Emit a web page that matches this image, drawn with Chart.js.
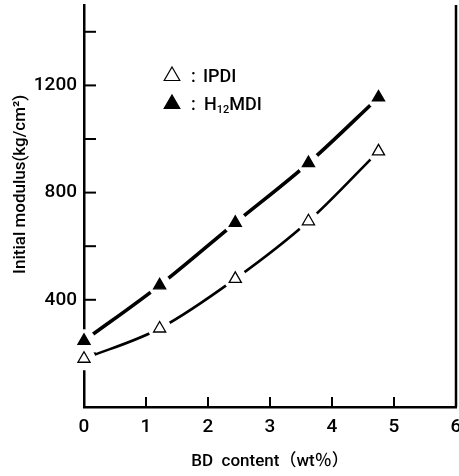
<!DOCTYPE html>
<html>
<head>
<meta charset="utf-8">
<script src="https://cdn.jsdelivr.net/npm/chart.js@4"></script>
<style>
  html, body { margin: 0; padding: 0; background: #fff; }
  #wrap { width: 459px; height: 476px; }
</style>
</head>
<body>
<div id="wrap"><canvas id="chart" width="459" height="476"></canvas></div>
<script>
const bdContent = [0, 1.22, 2.44, 3.62, 4.75];
const ipdiModulus = [180, 293, 478, 693, 954];
const h12mdiModulus = [247, 454, 687, 910, 1155];
const yLabelValues = [400, 800, 1200];
const xTickValues = [0, 1, 2, 3, 4, 5, 6];

const FONT = "Roboto, 'Noto Sans CJK JP', sans-serif";

function toPoints(xs, ys) {
  return xs.map((x, i) => ({ x: x, y: ys[i] }));
}

// inward ticks, right border, legend, markers with white halos
const decor = {
  id: 'decor',
  afterDraw(chart) {
    const ctx = chart.ctx;
    const area = chart.chartArea;
    const xs = chart.scales.x, ys = chart.scales.y;
    ctx.save();
    ctx.strokeStyle = '#000';
    ctx.lineWidth = 2.5;
    ctx.beginPath();
    ctx.moveTo(area.right, area.top);
    ctx.lineTo(area.right, area.bottom);
    ctx.stroke();
    ctx.lineWidth = 2;
    xTickValues.forEach(v => {
      const px = xs.getPixelForValue(v);
      ctx.beginPath();
      ctx.moveTo(px, area.bottom);
      ctx.lineTo(px, area.bottom - 10);
      ctx.stroke();
    });
    for (let v = 200; v <= 1400; v += 200) {
      const py = ys.getPixelForValue(v);
      ctx.beginPath();
      ctx.moveTo(area.left, py);
      ctx.lineTo(area.left + 12, py);
      ctx.stroke();
    }

    // halos then markers
    chart.data.datasets.forEach((ds, i) => {
      chart.getDatasetMeta(i).data.forEach(pt => {
        ctx.fillStyle = '#fff';
        ctx.beginPath();
        ctx.arc(pt.x, pt.y, 11.5, 0, Math.PI * 2);
        ctx.fill();
      });
    });
    chart.data.datasets.forEach((ds, i) => {
      chart.getDatasetMeta(i).data.forEach(pt => {
        ctx.fillStyle = ds.markerFill;
        ctx.strokeStyle = '#000';
        ctx.lineWidth = 1.3;
        Chart.helpers.drawPoint(ctx, { pointStyle: 'triangle', radius: 7, borderWidth: 1.3 }, pt.x, pt.y);
      });
    });

    // legend
    ctx.textBaseline = 'alphabetic';
    ctx.textAlign = 'left';
    const lx = 172;
    const rows = [{ y: 76, fill: '#fff' }, { y: 104, fill: '#000' }];
    rows.forEach(r => {
      ctx.fillStyle = r.fill;
      ctx.strokeStyle = '#000';
      ctx.lineWidth = 1.2;
      Chart.helpers.drawPoint(ctx, { pointStyle: 'triangle', radius: 9, borderWidth: 1.2 }, lx, r.y);
      ctx.fillStyle = '#000';
      ctx.font = '500 18px ' + FONT;
      ctx.fillText(':', 191, r.y + 6);
    });
    ctx.font = '500 18px ' + FONT;
    ctx.fillText('IPDI', 203, 82);
    ctx.fillText('H', 204, 110);
    const w = ctx.measureText('H').width;
    ctx.font = '500 11px ' + FONT;
    ctx.fillText('12', 204 + w, 113);
    const w2 = ctx.measureText('12').width;
    ctx.font = '500 18px ' + FONT;
    ctx.fillText('MDI', 204 + w + w2, 110);
    ctx.restore();
  }
};

new Chart(document.getElementById('chart').getContext('2d'), {
  type: 'scatter',
  data: {
    datasets: [
      {
        label: 'IPDI',
        data: toPoints(bdContent, ipdiModulus),
        showLine: true,
        borderColor: '#000',
        borderWidth: 2.6,
        cubicInterpolationMode: 'monotone',
        pointRadius: 0,
        markerFill: '#fff'
      },
      {
        label: 'H12MDI',
        data: toPoints(bdContent, h12mdiModulus),
        showLine: true,
        borderColor: '#000',
        borderWidth: 3.6,
        cubicInterpolationMode: 'monotone',
        pointRadius: 0,
        markerFill: '#000'
      }
    ]
  },
  options: {
    responsive: false,
    animation: false,
    layout: { padding: { top: 5, right: 3, left: 0, bottom: 0 } },
    plugins: { legend: { display: false }, tooltip: { enabled: false } },
    scales: {
      x: {
        type: 'linear',
        min: 0, max: 6,
        afterFit(s) { s.height = 69; s.paddingLeft = 0; s.paddingRight = 0; },
        grid: { display: false, drawTicks: false },
        border: { display: true, color: '#000', width: 2.5 },
        ticks: { stepSize: 1, color: '#000', padding: 9, font: { family: FONT, size: 19, weight: '500' } },
        title: { display: true, text: 'BD  content\uFF08wt\uFF05\uFF09', color: '#000', padding: { top: 10 }, font: { family: FONT, size: 17, weight: '500' } }
      },
      y: {
        min: 0, max: 1500,
        afterFit(s) { s.width = 84; s.paddingTop = 0; s.paddingBottom = 0; },
        grid: { display: false, drawTicks: false },
        border: { display: true, color: '#000', width: 2.5 },
        ticks: {
          stepSize: 200, color: '#000', padding: 7,
          font: { family: FONT, size: 19, weight: '500' },
          callback: v => yLabelValues.includes(v) ? String(v) : ''
        },
        title: { display: true, text: '\u2002\u2002\u2002\u2002\u2002Initial modulus(kg/cm²)', color: '#000', padding: { top: 11, bottom: 0 }, font: { family: FONT, size: 17, weight: '500' } }
      }
    }
  },
  plugins: [decor]
});
</script>
</body>
</html>
